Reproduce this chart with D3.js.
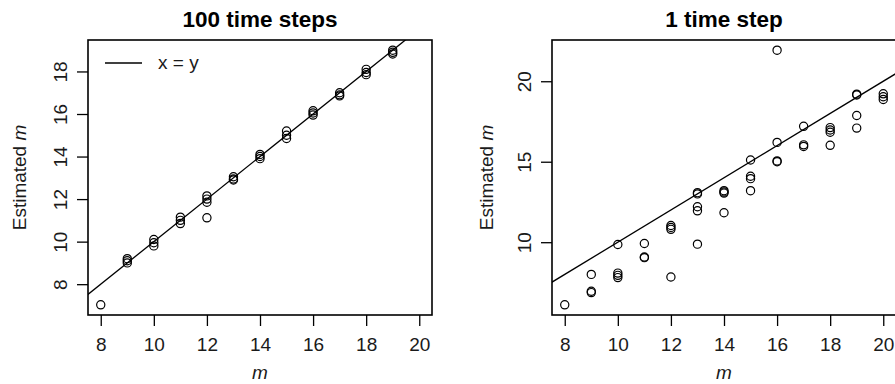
<!DOCTYPE html>
<html>
<head>
<meta charset="utf-8">
<script src="https://cdn.jsdelivr.net/npm/d3@7"></script>
<style>
  body { margin: 0; background: #fff; }
  svg { display: block; font-family: "Liberation Sans", Arial, sans-serif; }
</style>
</head>
<body>
<svg id="chart" width="895" height="384"></svg>
<script>
// 100 time steps: [true m, estimated m]
const longRun = [
  [8, 7.03],
  [9, 9.2], [9, 9.1], [9, 9.0],
  [10, 10.1], [10, 9.95], [10, 9.8],
  [11, 11.15], [11, 11.0], [11, 10.85],
  [12, 12.15], [12, 12.0], [12, 11.85], [12, 11.12],
  [13, 13.05], [13, 12.95], [13, 12.9],
  [14, 14.1], [14, 14.0], [14, 13.9],
  [15, 15.2], [15, 15.0], [15, 14.85],
  [16, 16.15], [16, 16.05], [16, 15.95],
  [17, 17.0], [17, 16.9], [17, 16.85],
  [18, 18.1], [18, 17.95], [18, 17.85],
  [19, 19.0], [19, 18.9], [19, 18.82]
]

// 1 time step
const shortRun = [
  [8, 6.11],
  [9, 8.0], [9, 6.95], [9, 6.87],
  [10, 9.86], [10, 8.08], [10, 7.94], [10, 7.8],
  [11, 9.92], [11, 9.08], [11, 9.04],
  [12, 11.04], [12, 10.92], [12, 10.8], [12, 7.84],
  [13, 13.08], [13, 13.0], [13, 12.2], [13, 11.95], [13, 9.88],
  [14, 13.2], [14, 13.12], [14, 13.05], [14, 11.83],
  [15, 15.11], [15, 14.1], [15, 13.95], [15, 13.2],
  [16, 21.93], [16, 16.2], [16, 15.05], [16, 15.0],
  [17, 17.2], [17, 16.05], [17, 15.95],
  [18, 17.12], [18, 16.97], [18, 16.83], [18, 16.02],
  [19, 19.2], [19, 19.15], [19, 17.87], [19, 17.09],
  [20, 19.22], [20, 19.04], [20, 18.87]
]

const xTicks = [8, 10, 12, 14, 16, 18, 20]
const yTicksLong = [8, 10, 12, 14, 16, 18]
const yTicksShort = [10, 15, 20]

const svg = d3.select('#chart')

function panel (opts) {
  const { left, top, width, height, title, data, yTicks, legend, id, yLabelX } = opts
  const pad = r => [r[0] - 0.04 * (r[1] - r[0]), r[1] + 0.04 * (r[1] - r[0])]
  const x = d3.scaleLinear().domain(pad([8, 20])).range([left, left + width])
  const yExt = d3.extent(data, d => d[1])
  const y = d3.scaleLinear().domain(pad(yExt)).range([top + height, top])

  svg.append('clipPath').attr('id', id)
    .append('rect')
    .attr('x', left).attr('y', top).attr('width', width).attr('height', height)

  // x = y line
  svg.append('line')
    .attr('clip-path', `url(#${id})`)
    .attr('x1', x(0)).attr('y1', y(0))
    .attr('x2', x(30)).attr('y2', y(30))
    .attr('stroke', '#000')
    .attr('stroke-width', 1.3)

  svg.append('g')
    .selectAll('circle')
    .data(data)
    .enter()
    .append('circle')
    .attr('cx', d => x(d[0]))
    .attr('cy', d => y(d[1]))
    .attr('r', 4.1)
    .attr('fill', 'none')
    .attr('stroke', '#000')
    .attr('stroke-width', 1.2)

  svg.append('rect')
    .attr('x', left).attr('y', top).attr('width', width).attr('height', height)
    .attr('fill', 'none')
    .attr('stroke', '#000')
    .attr('stroke-width', 1.6)

  const gx = svg.append('g')
    .attr('transform', `translate(0,${top + height})`)
    .call(d3.axisBottom(x).tickValues(xTicks).tickSize(11).tickPadding(11.5).tickFormat(d3.format('d')))
  gx.select('.domain').remove()
  gx.selectAll('line').attr('stroke-width', 1.3)
  gx.selectAll('text').attr('font-size', 19).attr('fill', '#1a1a1a').attr('font-family', null)

  const gy = svg.append('g')
    .attr('transform', `translate(${left},0)`)
    .call(d3.axisLeft(y).tickValues(yTicks).tickSize(11).tickFormat(d3.format('d')))
  gy.select('.domain').remove()
  gy.selectAll('line').attr('stroke-width', 1.3)
  gy.selectAll('text')
    .attr('x', null).attr('dy', null)
    .attr('text-anchor', 'middle')
    .attr('transform', 'translate(-21,0) rotate(-90)')
    .attr('font-size', 19).attr('fill', '#1a1a1a').attr('font-family', null)

  svg.append('text')
    .attr('x', left + width / 2)
    .attr('y', 27)
    .attr('text-anchor', 'middle')
    .attr('font-size', 22.5)
    .attr('font-weight', 'bold')
    .text(title)

  const xl = svg.append('text')
    .attr('x', left + width / 2)
    .attr('y', 379)
    .attr('text-anchor', 'middle')
    .attr('font-size', 19)
    .attr('fill', '#1a1a1a')
  xl.append('tspan').attr('font-style', 'italic').text('m')

  const yl = svg.append('text')
    .attr('transform', `translate(${yLabelX},${top + height / 2}) rotate(-90)`)
    .attr('text-anchor', 'middle')
    .attr('font-size', 19)
    .attr('fill', '#1a1a1a')
  yl.append('tspan').text('Estimated ')
  yl.append('tspan').attr('font-style', 'italic').text('m')

  if (legend) {
    svg.append('line')
      .attr('x1', left + 17).attr('x2', left + 54)
      .attr('y1', top + 23).attr('y2', top + 23)
      .attr('stroke', '#000').attr('stroke-width', 1.5)
    svg.append('text')
      .attr('x', left + 70).attr('y', top + 29)
      .attr('font-size', 19)
      .attr('fill', '#1a1a1a')
      .text(legend)
  }
}

panel({ id: 'clipA', left: 88, top: 40, width: 344, height: 275, title: '100 time steps', data: longRun, yTicks: yTicksLong, legend: 'x = y', yLabelX: 25.5 })
panel({ id: 'clipB', left: 552, top: 40, width: 344, height: 275, title: '1 time step', data: shortRun, yTicks: yTicksShort, legend: null, yLabelX: 493 })
</script>
</body>
</html>
